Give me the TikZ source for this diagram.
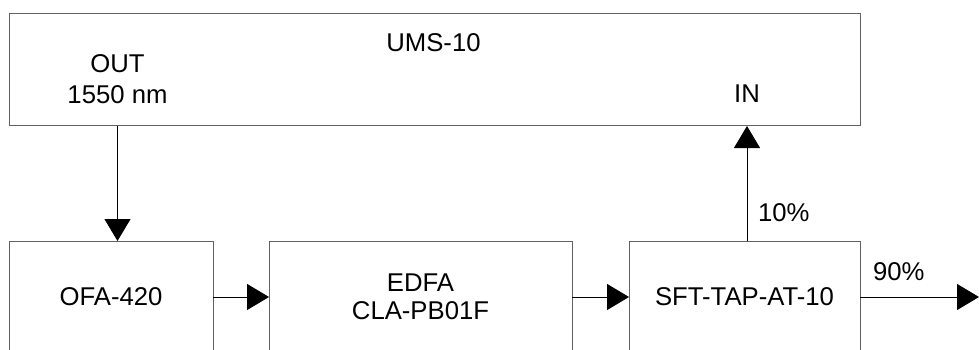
\documentclass[tikz,border=0pt]{standalone}
\usepackage{fontspec}
\setmainfont{Liberation Sans}
\usetikzlibrary{arrows.meta}
\begin{document}
\begin{tikzpicture}[x=1pt,y=-1pt,
  every node/.style={font=\fontsize{25.7}{28}\selectfont, inner sep=0pt, outer sep=0pt},
  blk/.style={draw=black!62, line width=1pt, rectangle, anchor=center, align=center},
  txt/.style={align=center},
  arr/.style={draw=black, line width=1pt, -{Triangle[length=22pt,width=26pt]}}]
\useasboundingbox (0,0) rectangle (979,350);
\clip (0,0) rectangle (979,350);
\fill[white] (0,0) rectangle (979,350);
% top unit
\node[blk, minimum width=851pt, minimum height=112pt] (ums) at (434.5,70) {};
\node[txt] (umsl) at (433.5,43) {UMS-10};
\node[txt, anchor=base] (outl) at (117.5,103) {OUT\\[3pt]1550 nm};
\node[txt] (inl) at (747,94) {IN};
% bottom chain
\node[blk, minimum width=204pt, minimum height=112pt] (ofa) at (111,297) {OFA-420};
\node[blk, minimum width=303pt, minimum height=112pt] (edfa) at (420.5,297) {EDFA\\CLA-PB01F};
\node[blk, minimum width=231pt, minimum height=112pt] (sft) at (744.5,297) {SFT-TAP-AT-10};
\coordinate (outend) at (979,297);
% connectors
\draw[arr] (ums.south -| outl.south) -- (ofa.north -| outl.south);
\draw[arr] (ofa.east) -- (edfa.west);
\draw[arr] (edfa.east) -- (sft.west);
\draw[arr] (sft.north -| inl.south) -- (ums.south -| inl.south);
\draw[arr] (sft.east) -- (outend);
% labels
\node[txt, anchor=west] (p10) at (758,213) {10\%};
\node[txt, anchor=west] (p90) at (873,272) {90\%};
\end{tikzpicture}
\end{document}
